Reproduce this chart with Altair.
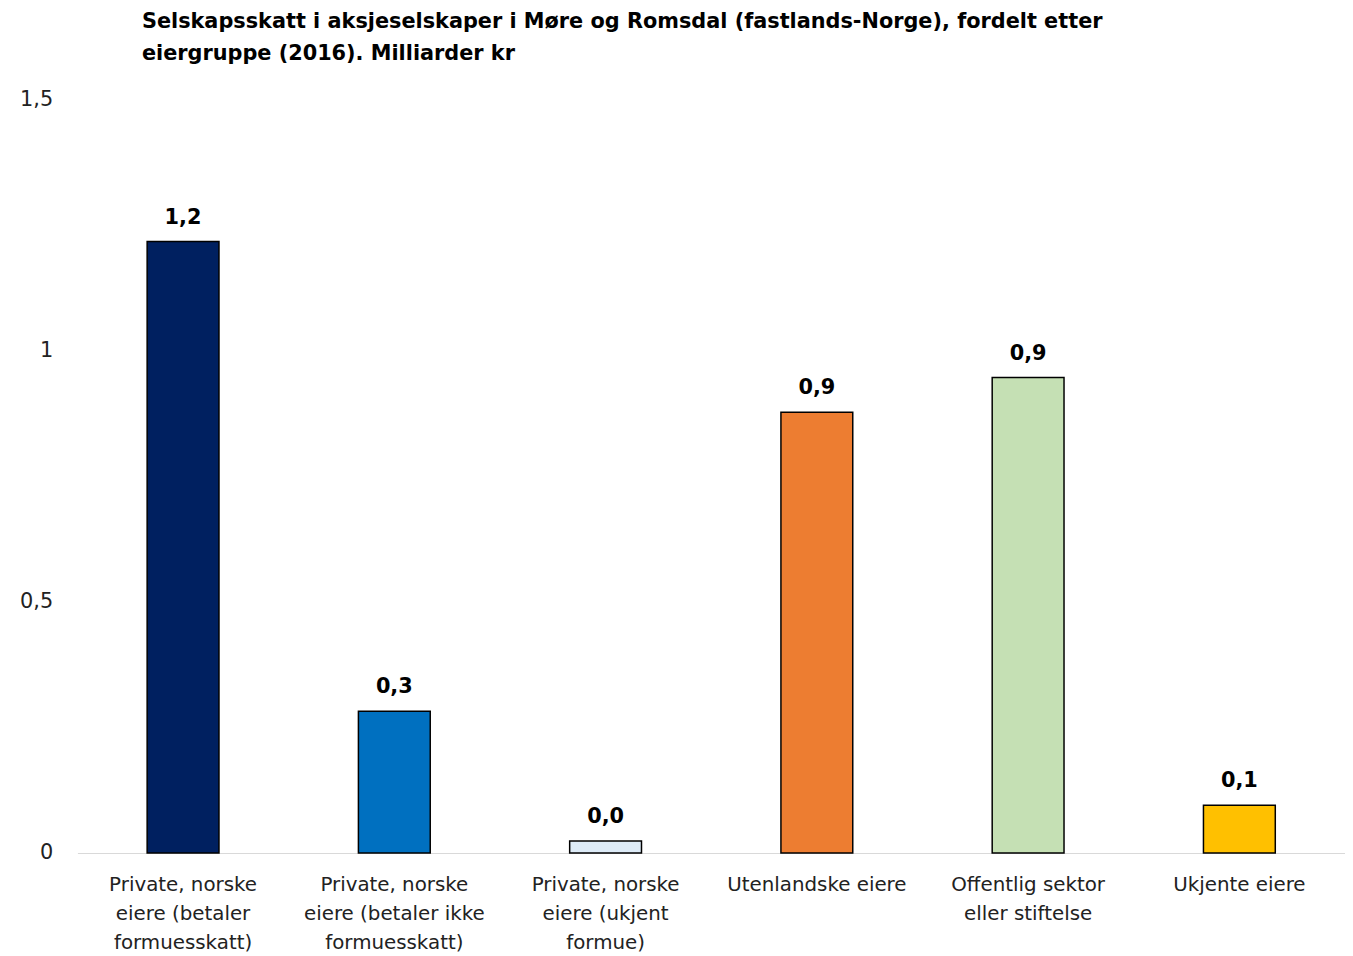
import altair as alt
import pandas as pd

categories = [
    "Private, norske\neiere (betaler\nformuesskatt)",
    "Private, norske\neiere (betaler ikke\nformuesskatt)",
    "Private, norske\neiere (ukjent\nformue)",
    "Utenlandske eiere",
    "Offentlig sektor\neller stiftelse",
    "Ukjente eiere",
]
values = [1.217, 0.282, 0.024, 0.877, 0.946, 0.095]
colors = ["#002060", "#0070C0", "#DDEBF7", "#ED7D31", "#C5E0B4", "#FFC000"]
title_lines = [
    "Selskapsskatt i aksjeselskaper i Møre og Romsdal (fastlands-Norge), fordelt etter",
    "eiergruppe (2016). Milliarder kr",
]

df = pd.DataFrame({"cat": categories, "val": values, "color": colors})
df["label"] = [f"{v:.1f}".replace(".", ",") for v in values]

FONT = "DejaVu Sans"

x = alt.X("cat:N", sort=categories, title=None,
          scale=alt.Scale(paddingInner=0.66, paddingOuter=0.33),
          axis=alt.Axis(labelExpr="split(datum.label, '\\n')", labelAngle=0,
                        labelFontSize=20, labelLineHeight=29, labelColor="#222222",
                        labelFont=FONT, labelPadding=22, ticks=False,
                        domainColor="#D9D9D9", labelLimit=300))
y = alt.Y("val:Q", title=None,
          scale=alt.Scale(domain=[0, 1.5], nice=False),
          axis=alt.Axis(values=[0, 0.5, 1, 1.5], grid=False, domain=False, ticks=False,
                        labelExpr="replace(format(datum.value, ''), '.', ',')",
                        labelFontSize=21, labelColor="#222222", labelFont=FONT,
                        labelPadding=25))

bars = alt.Chart(df).mark_bar(stroke="black", strokeWidth=1.5).encode(
    x=x, y=y, color=alt.Color("color:N", scale=None))
text = alt.Chart(df).mark_text(dy=-14, baseline="bottom", fontSize=21, fontWeight="bold",
                               font=FONT, color="black").encode(
    x=alt.X("cat:N", sort=categories), y="val:Q", text="label:N")

chart = (bars + text).properties(
    width=1278, height=760,
    autosize=alt.AutoSizeParams(type="none"),
    padding={"left": 70, "top": 88, "right": 0, "bottom": 110},
    title=alt.TitleParams(title_lines, anchor="start", frame="group", dx=65, offset=24,
                          fontSize=21, fontWeight="bold", font=FONT, color="black",
                          lineHeight=33),
).configure_view(stroke=None)

chart.save("out.html", embed_options={"renderer": "svg", "actions": False})
